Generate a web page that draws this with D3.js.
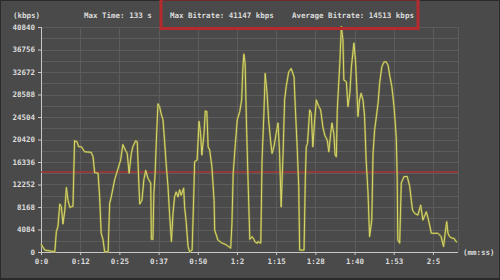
<!DOCTYPE html>
<html>
<head>
	<meta charset="utf-8">
	<script src="https://d3js.org/d3.v7.min.js"></script>
	<title>Bitrate</title>
	<style>
		body { margin: 0; background: #2a2a2a; }
		text { font-family: "DejaVu Sans Mono", monospace; font-weight: bold; font-size: 7.5px; fill: #dcdcdc; }
	</style>
</head>
<body>
	<div id="chart"></div>

	<script type="text/javascript">

		// values (seconds, kbps)
		var seconds = [0.0, 1.2, 4.4, 4.9, 5.4, 6.0, 6.5, 7.0, 7.6, 8.1, 8.6, 9.2, 10.2, 10.7, 11.5, 12.0, 12.9, 13.9, 16.0, 16.6,
			17.1, 18.2, 18.7, 19.2, 19.8, 20.3, 21.4, 21.9, 22.4, 23.5, 24.6, 25.4, 26.1, 26.9, 27.5, 28.1, 28.8, 29.3, 30.2, 30.7,
			31.2, 31.5, 32.2, 32.8, 33.4, 34.1, 35.0, 35.2, 35.7, 36.0, 36.4, 36.8, 37.3, 37.8, 38.4, 38.9, 39.4, 39.9, 40.5, 41.0,
			41.6, 42.1, 42.6, 43.1, 43.7, 44.2, 44.7, 45.5, 45.8, 46.3, 46.9, 47.4, 48.2, 48.8, 49.0, 49.8, 50.4, 50.9, 51.3, 52.0,
			52.4, 52.9, 53.3, 53.8, 54.5, 55.2, 55.4, 56.4, 57.5, 59.1, 60.5, 60.9, 61.3, 62.0, 62.6, 63.4, 64.0, 64.4, 64.7, 65.1,
			65.5, 66.0, 66.6, 67.3, 67.9, 68.3, 69.0, 69.2, 70.1, 70.5, 71.1, 71.5, 72.1, 72.6, 73.2, 73.7, 74.3, 75.0, 75.6, 76.1,
			76.6, 77.2, 77.7, 78.2, 79.0, 79.8, 80.7, 81.1, 81.7, 82.2, 82.5, 83.9, 84.3, 84.6, 85.0, 85.7, 86.2, 86.7, 87.3, 87.8,
			88.6, 89.2, 89.9, 90.5, 91.3, 91.8, 92.4, 92.8, 93.4, 93.8, 94.2, 94.5, 94.9, 95.3, 95.8, 96.3, 96.6, 97.4, 97.9, 98.5,
			99.0, 99.8, 100.3, 100.7, 101.1, 101.6, 102.1, 102.7, 103.2, 103.7, 104.3, 104.8, 105.5, 105.9, 106.4, 107.5, 108.0, 108.7, 109.4, 110.1,
			110.7, 111.3, 111.9, 112.6, 113.3, 113.6, 113.8, 114.4, 114.9, 115.8, 116.8, 117.6, 118.1, 118.5, 119.2, 120.2, 121.1, 121.8, 122.9, 123.6,
			124.5, 126.6, 127.6, 128.4, 128.9, 129.4, 129.8, 130.3, 131.1, 131.7, 132.4, 132.7];
		var kbps = [1450, 350, 50, 3700, 4600, 8700, 8200, 5100, 7600, 11700, 9400, 8100, 8300, 20200, 20000, 19100, 19100, 18200, 18100, 17300,
			14400, 14300, 10000, 3400, 2200, 50, 50, 8800, 10000, 13100, 15200, 16700, 19500, 18500, 17900, 14300, 17900, 19100, 20200, 20000,
			12500, 8700, 9400, 13100, 14800, 13400, 12500, 2300, 2300, 10700, 14300, 20300, 26900, 26400, 24900, 24000, 20300, 16100, 11900, 7000,
			1900, 7000, 10000, 10900, 10000, 11300, 10300, 11600, 8200, 5500, 1000, 50, 350, 11900, 16400, 16700, 23700, 21500, 17600, 21500,
			25600, 25500, 19100, 18500, 15500, 9400, 4000, 2200, 1700, 1300, 700, 5200, 14300, 19700, 24000, 25500, 27600, 33600, 35900, 34200,
			24000, 13700, 2300, 2800, 2300, 1800, 1600, 1900, 1600, 16700, 25200, 32400, 28800, 24000, 20300, 17900, 19100, 21500, 23400, 17900,
			8200, 17900, 27600, 30000, 32700, 33300, 31800, 26400, 19100, 11900, 350, 350, 13100, 19100, 19700, 25800, 25200, 19100, 24000, 27600,
			26400, 25800, 22700, 21200, 20300, 18200, 21500, 23400, 21500, 17600, 17300, 25800, 30000, 34200, 40900, 38500, 31200, 30900, 26400, 28800,
			33600, 37900, 34800, 30000, 24600, 27600, 28800, 27600, 24600, 16700, 10700, 2800, 5800, 17900, 22100, 27000, 30600, 33600, 34500, 34500,
			33900, 31800, 30000, 26400, 20900, 13700, 2200, 1600, 12500, 13700, 13700, 11900, 9400, 7600, 7000, 6700, 8500, 5800, 7300, 5800,
			3400, 3400, 2800, 1000, 3400, 5500, 3400, 2800, 2500, 2500, 1900, 1800];

		var timeTicks = [0, 12.5, 25, 37.5, 50, 62.5, 75, 87.5, 100, 112.5, 125];
		var timeLabels = ["0:0", "0:12", "0:25", "0:37", "0:50", "1:2", "1:15", "1:28", "1:40", "1:53", "2:5"];
		var rateTicks = [0, 4084, 8168, 12252, 16336, 20420, 24504, 28588, 32672, 36756, 40840];

		var maxTime = 133;
		var maxRate = 41147;
		var avgRate = 14513;

		var data = seconds.map(function(s, i){
			return {t: s, v: kbps[i]};
		});

		var svgwidth = 500;
		var svgheight = 280;

		var xScale = d3.scaleLinear()
						.domain([0, maxTime])
						.range([41, 458]);

		var yScale = d3.scaleLinear()
						.domain([0, 40840])
						.range([252, 27]);

		var svg = d3.select("#chart").append("svg")
						.attr("width", svgwidth)
						.attr("height", svgheight)
						.style("display", "block");

		svg.append("rect")
			.attr("x", 1).attr("y", 1)
			.attr("width", svgwidth - 2).attr("height", svgheight - 3)
			.attr("fill", "#4a4a4a");

		// grid, every half tick across, every tick down
		var gridRates = d3.range(0, rateTicks.length * 2 - 1).map(function(i){ return i * 2042; });
		svg.selectAll(".hgrid")
			.data(gridRates).enter().append("line")
			.attr("class", "hgrid")
			.attr("x1", xScale(0)).attr("x2", xScale(maxTime))
			.attr("y1", function(d){ return Math.round(yScale(d)) + 0.5; })
			.attr("y2", function(d){ return Math.round(yScale(d)) + 0.5; })
			.attr("stroke", "#5c5c5c").attr("stroke-width", 1);

		svg.selectAll(".vgrid")
			.data(timeTicks.concat([maxTime])).enter().append("line")
			.attr("class", "vgrid")
			.attr("x1", function(d){ return Math.round(xScale(d)) + 0.5; })
			.attr("x2", function(d){ return Math.round(xScale(d)) + 0.5; })
			.attr("y1", yScale(40840)).attr("y2", yScale(0))
			.attr("stroke", "#5c5c5c").attr("stroke-width", 1);

		// axes
		var xAxis = d3.axisBottom(xScale)
						.tickValues(timeTicks)
						.tickSize(3)
						.tickFormat(function(d, i){ return timeLabels[i]; });

		var yAxis = d3.axisLeft(yScale)
						.tickValues(rateTicks)
						.tickSize(3)
						.tickFormat(d3.format("d"));

		var gx = svg.append("g")
			.attr("transform", "translate(0," + yScale(0) + ")")
			.call(xAxis);

		var gy = svg.append("g")
			.attr("transform", "translate(" + xScale(0) + ",0)")
			.call(yAxis);

		[gx, gy].forEach(function(g){
			g.select(".domain").attr("stroke", "#c8c8c8");
			g.selectAll(".tick line").attr("stroke", "#c8c8c8");
			g.selectAll("text")
				.attr("fill", "#dcdcdc")
				.style("font-family", "'DejaVu Sans Mono', monospace")
				.style("font-weight", "bold")
				.style("font-size", "7.5px");
		});
		gx.select(".domain").attr("d", "M" + xScale(0) + ",0.5H" + xScale(maxTime));
		gx.selectAll(".tick text").attr("dy", "0.6em").attr("y", 7);
		gy.select(".domain").attr("d", "M0.5," + yScale(0) + "V" + yScale(40840));
		gy.selectAll(".tick text").attr("x", -6);

		// average line
		svg.append("line")
			.attr("x1", xScale(0)).attr("x2", xScale(maxTime))
			.attr("y1", yScale(avgRate)).attr("y2", yScale(avgRate))
			.attr("stroke", "#a83434").attr("stroke-width", 1.6);

		// bitrate line
		var line = d3.line()
			.x(function(d){ return xScale(d.t); })
			.y(function(d){ return yScale(d.v); });

		svg.append("path")
			.datum(data)
			.attr("d", line)
			.attr("fill", "none")
			.attr("stroke", "#8e8e3c")
			.attr("stroke-width", 2.2)
			.attr("stroke-linejoin", "round")
			.attr("opacity", 0.7);

		svg.append("path")
			.datum(data)
			.attr("d", line)
			.attr("fill", "none")
			.attr("stroke", "#d8d86c")
			.attr("stroke-width", 1)
			.attr("stroke-linejoin", "round");

		// header texts
		svg.append("text").attr("x", 13).attr("y", 18).text("(kbps)");
		svg.append("text").attr("x", 84).attr("y", 18).text("Max Time: " + maxTime + " s");
		svg.append("text").attr("x", 170).attr("y", 18).text("Max Bitrate: " + maxRate + " kbps");
		svg.append("text").attr("x", 292).attr("y", 18).text("Average Bitrate: " + avgRate + " kbps");
		svg.append("text").attr("x", 463).attr("y", 255).text("(mm:ss)");

		// red box round the bitrates
		svg.append("rect")
			.attr("x", 161).attr("y", -1)
			.attr("width", 257).attr("height", 29.5)
			.attr("fill", "none")
			.attr("stroke", "#b52a2c")
			.attr("stroke-width", 3);

	</script>

</body>
</html>
